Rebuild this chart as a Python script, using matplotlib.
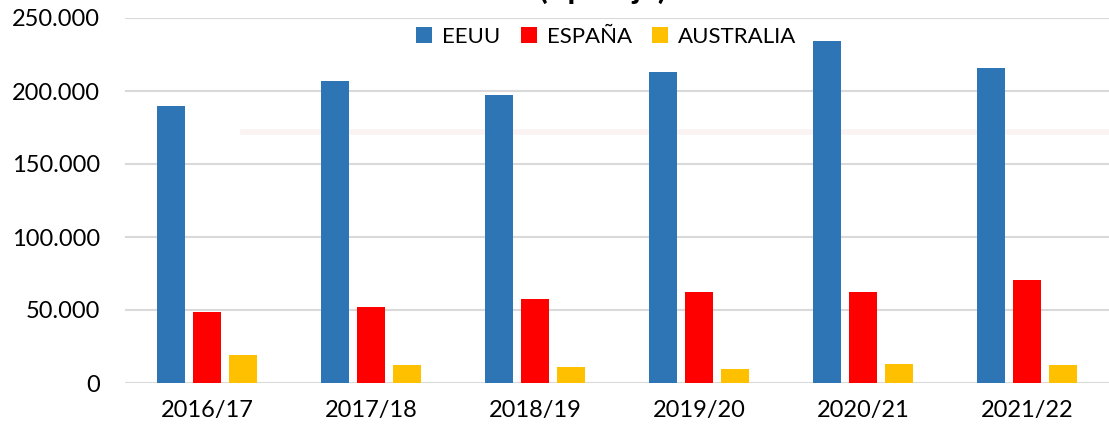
import matplotlib
matplotlib.use('Agg')
import matplotlib.pyplot as plt
import numpy as np

# datos
campanas = ['2016/17', '2017/18', '2018/19', '2019/20', '2020/21', '2021/22']
eeuu = [190000, 207000, 197500, 213000, 234000, 215500]
espana = [48500, 52000, 57500, 62000, 62500, 70500]
australia = [19500, 12500, 11000, 9500, 13000, 12000]
ticks_y = [0, 50000, 100000, 150000, 200000, 250000]
etiquetas_y = ['0', '50.000', '100.000', '150.000', '200.000', '250.000']


def main():
    plt.rcParams['font.family'] = ['Lato', 'DejaVu Sans']

    fig = plt.figure(figsize=(11.09, 4.28), dpi=100)
    ax = fig.add_axes([125 / 1109, 45 / 428, 984 / 1109, 365 / 428])

    # título recortado en la parte superior (solo se ven los trazos inferiores)
    fig.text(603 / 1109, 1 + 1 / 428, '(t pesaje)', ha='center',
             va='baseline', fontsize=23, fontweight='bold')

    x = np.arange(len(campanas))
    ancho = 0.171
    paso = 0.22
    ax.bar(x - paso, eeuu, ancho, color='#2E75B6', label='EEUU', zorder=3)
    ax.bar(x, espana, ancho, color='#FF0000', label='ESPAÑA', zorder=3)
    ax.bar(x + paso, australia, ancho, color='#FFC000', label='AUSTRALIA', zorder=3)

    # línea tenue que aparece en la imagen original
    ax.plot([0.12, 1], [0.6877, 0.6877], transform=ax.transAxes,
            color='#fbf2f2', lw=4, zorder=2, clip_on=False)

    ax.set_xlim(-0.5, len(campanas) - 0.5)
    ax.set_ylim(0, 250000)
    ax.set_yticks(ticks_y)
    ax.set_yticklabels(etiquetas_y)
    ax.set_xticks(x)
    ax.set_xticklabels(campanas)
    ax.tick_params(axis='y', length=0, pad=18, labelsize=17, colors='#000000')
    ax.tick_params(axis='x', length=0, pad=12, labelsize=17)

    ax.grid(axis='y', color='#d9d9d9', lw=1.5, zorder=0)
    for s in ax.spines.values():
        s.set_visible(False)

    ax.legend(loc='center', bbox_to_anchor=(0.489, 0.948), ncol=3, frameon=False,
              fontsize=16, handlelength=0.72, handleheight=0.72,
              handletextpad=0.45, columnspacing=0.9, borderpad=0)

    fig.savefig('out.png', dpi=100)


if __name__ == '__main__':
    main()
